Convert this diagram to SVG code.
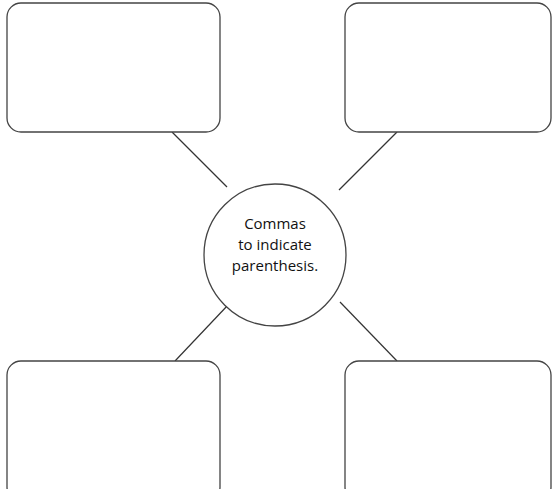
<svg xmlns="http://www.w3.org/2000/svg" width="552" height="489" viewBox="0 0 552 489">
<style>
.box{fill:#fff;stroke:#444;stroke-width:1.3}
.conn line{stroke:#333;stroke-width:1.2}
.lbl{font-family:"Open Sans","Liberation Sans",sans-serif;font-size:15px;fill:#111;text-anchor:middle}
</style>
<rect width="552" height="489" fill="#fff"/>
<g class="conn" id="connectors">
<line x1="172" y1="132" x2="227" y2="187"/>
<line x1="397" y1="132" x2="339" y2="190"/>
<line x1="228" y1="305" x2="175" y2="361"/>
<line x1="340" y1="302" x2="397" y2="361"/>
</g>
<g id="box-top-left"><rect class="box" x="7" y="3" width="213" height="129" rx="14"/></g>
<g id="box-top-right"><rect class="box" x="345" y="3" width="206" height="129" rx="14"/></g>
<g id="box-bottom-left"><rect class="box" x="7" y="361" width="213" height="140" rx="14"/></g>
<g id="box-bottom-right"><rect class="box" x="345" y="361" width="206" height="140" rx="14"/></g>
<g id="center">
<circle cx="275" cy="255" r="71" fill="#fff" stroke="#444" stroke-width="1.3"/>
<text class="lbl" x="275" y="229">Commas</text>
<text class="lbl" x="275" y="250">to indicate</text>
<text class="lbl" x="275" y="271">parenthesis.</text>
</g>
</svg>
